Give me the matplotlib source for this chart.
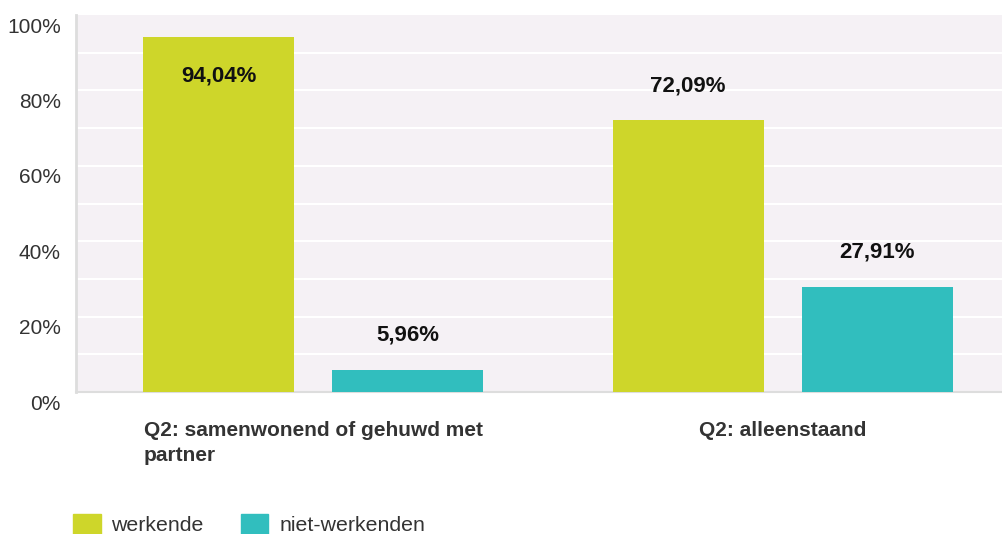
import matplotlib.pyplot as plt
import matplotlib.patches as mpatches
from matplotlib import transforms
import numpy as np

plt.rcParams['font.family'] = ['Liberation Sans', 'DejaVu Sans']

# data
categories = ['Q2: samenwonend of gehuwd met\npartner', 'Q2: alleenstaand']
series_names = ['werkende', 'niet-werkenden']
werkende = [94.04, 72.09]
niet_werkenden = [5.96, 27.91]
y_ticks = [0, 20, 40, 60, 80, 100]

colors = ['#CED62A', '#31BEBE']
bg = '#F5F1F5'

fig = plt.figure(figsize=(10.03, 5.34), dpi=100)
ax = fig.add_axes([0.0758, 0.2659, 0.9242, 0.706])
ax.set_facecolor(bg)

x = np.arange(len(categories))
w = 0.3216
off = 0.2013
for vals, dx, c in [(werkende, -off, colors[0]), (niet_werkenden, off, colors[1])]:
    ax.bar(x + dx, vals, width=w, color=c, zorder=3)
    for xi, v in zip(x + dx, vals):
        label = f'{v:.2f}%'.replace('.', ',')
        if v > 90:
            dy = -28
        else:
            dy = 25
        ax.annotate(label, (xi, v), xytext=(0, dy), textcoords='offset points',
                    ha='center', va='center', fontsize=16, fontweight='bold',
                    color='#111111', zorder=4)

ax.set_xlim(-0.5048, 1.4696)
ax.set_ylim(0, 100)

# white gridlines every 10%
for g in range(10, 100, 10):
    ax.axhline(g, color='white', lw=1.5, zorder=1)

ax.set_yticks(y_ticks)
ax.set_yticklabels([f'{t}%' for t in y_ticks], fontsize=15, color='#333333')
ax.tick_params(axis='y', length=0, pad=11)
# labels sit a little below their gridline
shift = transforms.ScaledTranslation(0, -10 / 100, fig.dpi_scale_trans)
for lab in ax.get_yticklabels():
    lab.set_transform(lab.get_transform() + shift)

ax.set_xticks([])
for s in ['top', 'right']:
    ax.spines[s].set_visible(False)
ax.spines['left'].set_color('#DDDDDD')
ax.spines['left'].set_linewidth(2)
ax.spines['bottom'].set_color('#DDDDDD')
ax.spines['bottom'].set_linewidth(1.5)

# category labels
trans = transforms.blended_transform_factory(ax.transData, ax.transAxes)
for xi, cat in zip(x, categories):
    ax.text(xi, -0.078, cat, transform=trans, ha='center', va='top',
            multialignment='left', fontsize=15, fontweight='bold',
            color='#333333', linespacing=1.4)

handles = [mpatches.Patch(color=c, label=n) for c, n in zip(colors, series_names)]
fig.legend(handles=handles, loc='center left', bbox_to_anchor=(0.0728, 0.018),
           ncol=2, frameon=False, fontsize=15.3, handlelength=1.3, handleheight=1.05,
           handletextpad=0.5, columnspacing=1.75, labelcolor='#333333',
           borderpad=0, borderaxespad=0)

plt.savefig('out.png', dpi=100)
